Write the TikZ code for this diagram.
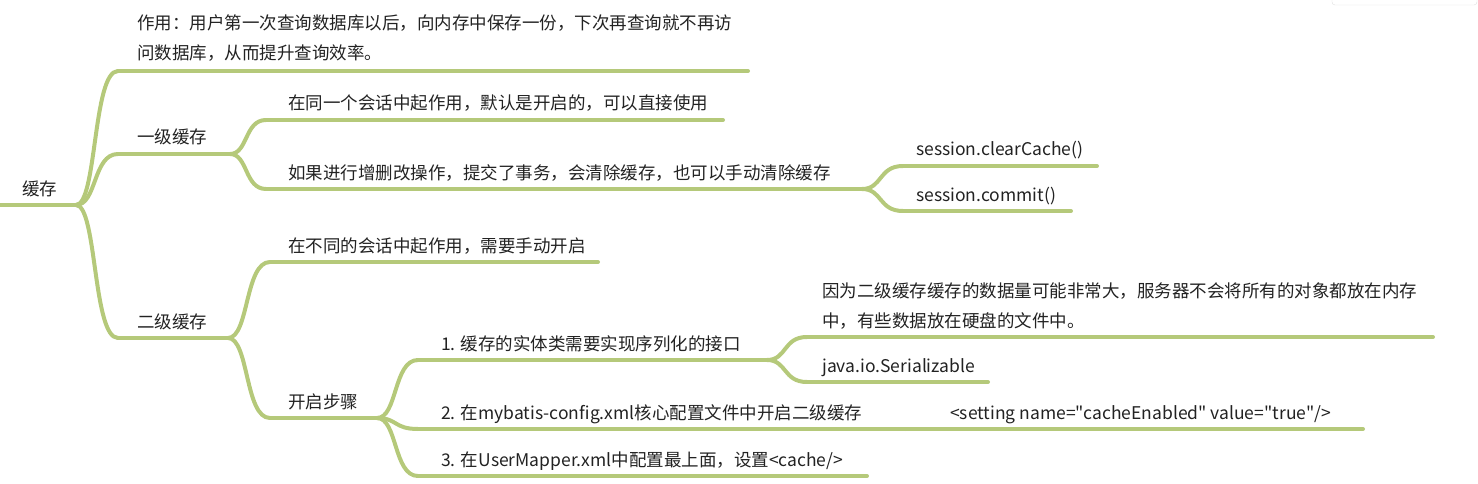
\documentclass[tikz,border=0pt]{standalone}
\usepackage{fontspec}
\setmainfont{Noto Sans CJK SC}[Ligatures=TeXOff]
\usetikzlibrary{calc}
\definecolor{branch}{RGB}{181,201,122}
\definecolor{txt}{RGB}{34,34,34}
\newcommand\mmbranch[2]{\draw[edge] (#1) .. controls ($(#1)!0.5!(#1 -| #2)$) and ($(#2)!0.6!(#2 -| #1)$) .. (#2);}
\begin{document}
\begin{tikzpicture}[x=1pt,y=-1pt,
  edge/.style={draw=branch, line width=4pt, line cap=round},
  lbl/.style={anchor=base west, inner sep=0pt, text=txt, font=\fontsize{17.5}{30}\selectfont},
]
\useasboundingbox (0,0) rectangle (1478,484);
% faint UI box top right
\draw[gray!25, rounded corners=3pt] (1332,-10) rectangle (1477,5);

% line coordinates
\coordinate (rootL) at (0,205);   \coordinate (rootR) at (76,205);
\coordinate (aL) at (118,71);     \coordinate (aR) at (748,71);
\coordinate (bL) at (118,154);    \coordinate (bR) at (230,154);
\coordinate (cL) at (118,338);    \coordinate (cR) at (228,338);
\coordinate (b1L) at (266,120);   \coordinate (b1R) at (723,120);
\coordinate (b2L) at (266,189);   \coordinate (b2R) at (862,189);
\coordinate (s1L) at (903,166);   \coordinate (s1R) at (1097,166);
\coordinate (s2L) at (903,211);   \coordinate (s2R) at (1071,211);
\coordinate (c1L) at (270,262);   \coordinate (c1R) at (598,262);
\coordinate (c2L) at (270,418);   \coordinate (c2R) at (377,418);
\coordinate (p1L) at (418,360);   \coordinate (p1R) at (767,360);
\coordinate (n1L) at (807,337);   \coordinate (n1R) at (1433,337);
\coordinate (n2L) at (807,382);   \coordinate (n2R) at (988,382);
\coordinate (p2L) at (418,429);   \coordinate (p2R) at (905,429);
\coordinate (stL) at (905,429);   \coordinate (stR) at (1363,429);
\coordinate (p3L) at (418,476);   \coordinate (p3R) at (867,476);

% horizontal underlines
\foreach \n in {root,a,b,c,b1,b2,s1,s2,c1,c2,p1,n1,n2,p2,st,p3}
  \draw[edge] (\n L) -- (\n R);

% branches
\mmbranch{rootR}{aL}
\mmbranch{rootR}{bL}
\mmbranch{rootR}{cL}
\mmbranch{bR}{b1L}
\mmbranch{bR}{b2L}
\mmbranch{b2R}{s1L}
\mmbranch{b2R}{s2L}
\mmbranch{cR}{c1L}
\mmbranch{cR}{c2L}
\mmbranch{c2R}{p1L}
\mmbranch{c2R}{p2L}
\mmbranch{c2R}{p3L}
\mmbranch{p1R}{n1L}
\mmbranch{p1R}{n2L}
\draw[edge] (p2R) -- (stL);

% texts
\node[lbl] (troot) at (22,195) {缓存};
\node[lbl] (ta1) at (137,30) {作用：用户第一次查询数据库以后，向内存中保存一份，下次再查询就不再访};
\node[lbl] (ta2) at (137,60) {问数据库，从而提升查询效率。};
\node[lbl] (tb) at (137,144) {一级缓存};
\node[lbl] (tc) at (137,328) {二级缓存};
\node[lbl] (tb1) at (288,110) {在同一个会话中起作用，默认是开启的，可以直接使用};
\node[lbl] (tb2) at (288,179) {如果进行增删改操作，提交了事务，会清除缓存，也可以手动清除缓存};
\node[lbl] (ts1) at (916,156) {session.clearCache()};
\node[lbl] (ts2) at (916,201) {session.commit()};
\node[lbl] (tc1) at (288,252) {在不同的会话中起作用，需要手动开启};
\node[lbl] (tc2) at (288,408) {开启步骤};
\node[lbl] (tp1) at (441,350) {1. 缓存的实体类需要实现序列化的接口};
\node[lbl] (tn1a) at (822,297) {因为二级缓存缓存的数据量可能非常大，服务器不会将所有的对象都放在内存};
\node[lbl] (tn1b) at (822,327) {中，有些数据放在硬盘的文件中。};
\node[lbl] (tn2) at (822,372) {java.io.Serializable};
\node[lbl] (tp2) at (441,419) {2. 在mybatis-config.xml核心配置文件中开启二级缓存};
\node[lbl] (tst) at (950,419) {<setting name="cacheEnabled" value="true"/>};
\node[lbl] (tp3) at (441,466) {3. 在UserMapper.xml中配置最上面，设置<cache/>};
\end{tikzpicture}
\end{document}
